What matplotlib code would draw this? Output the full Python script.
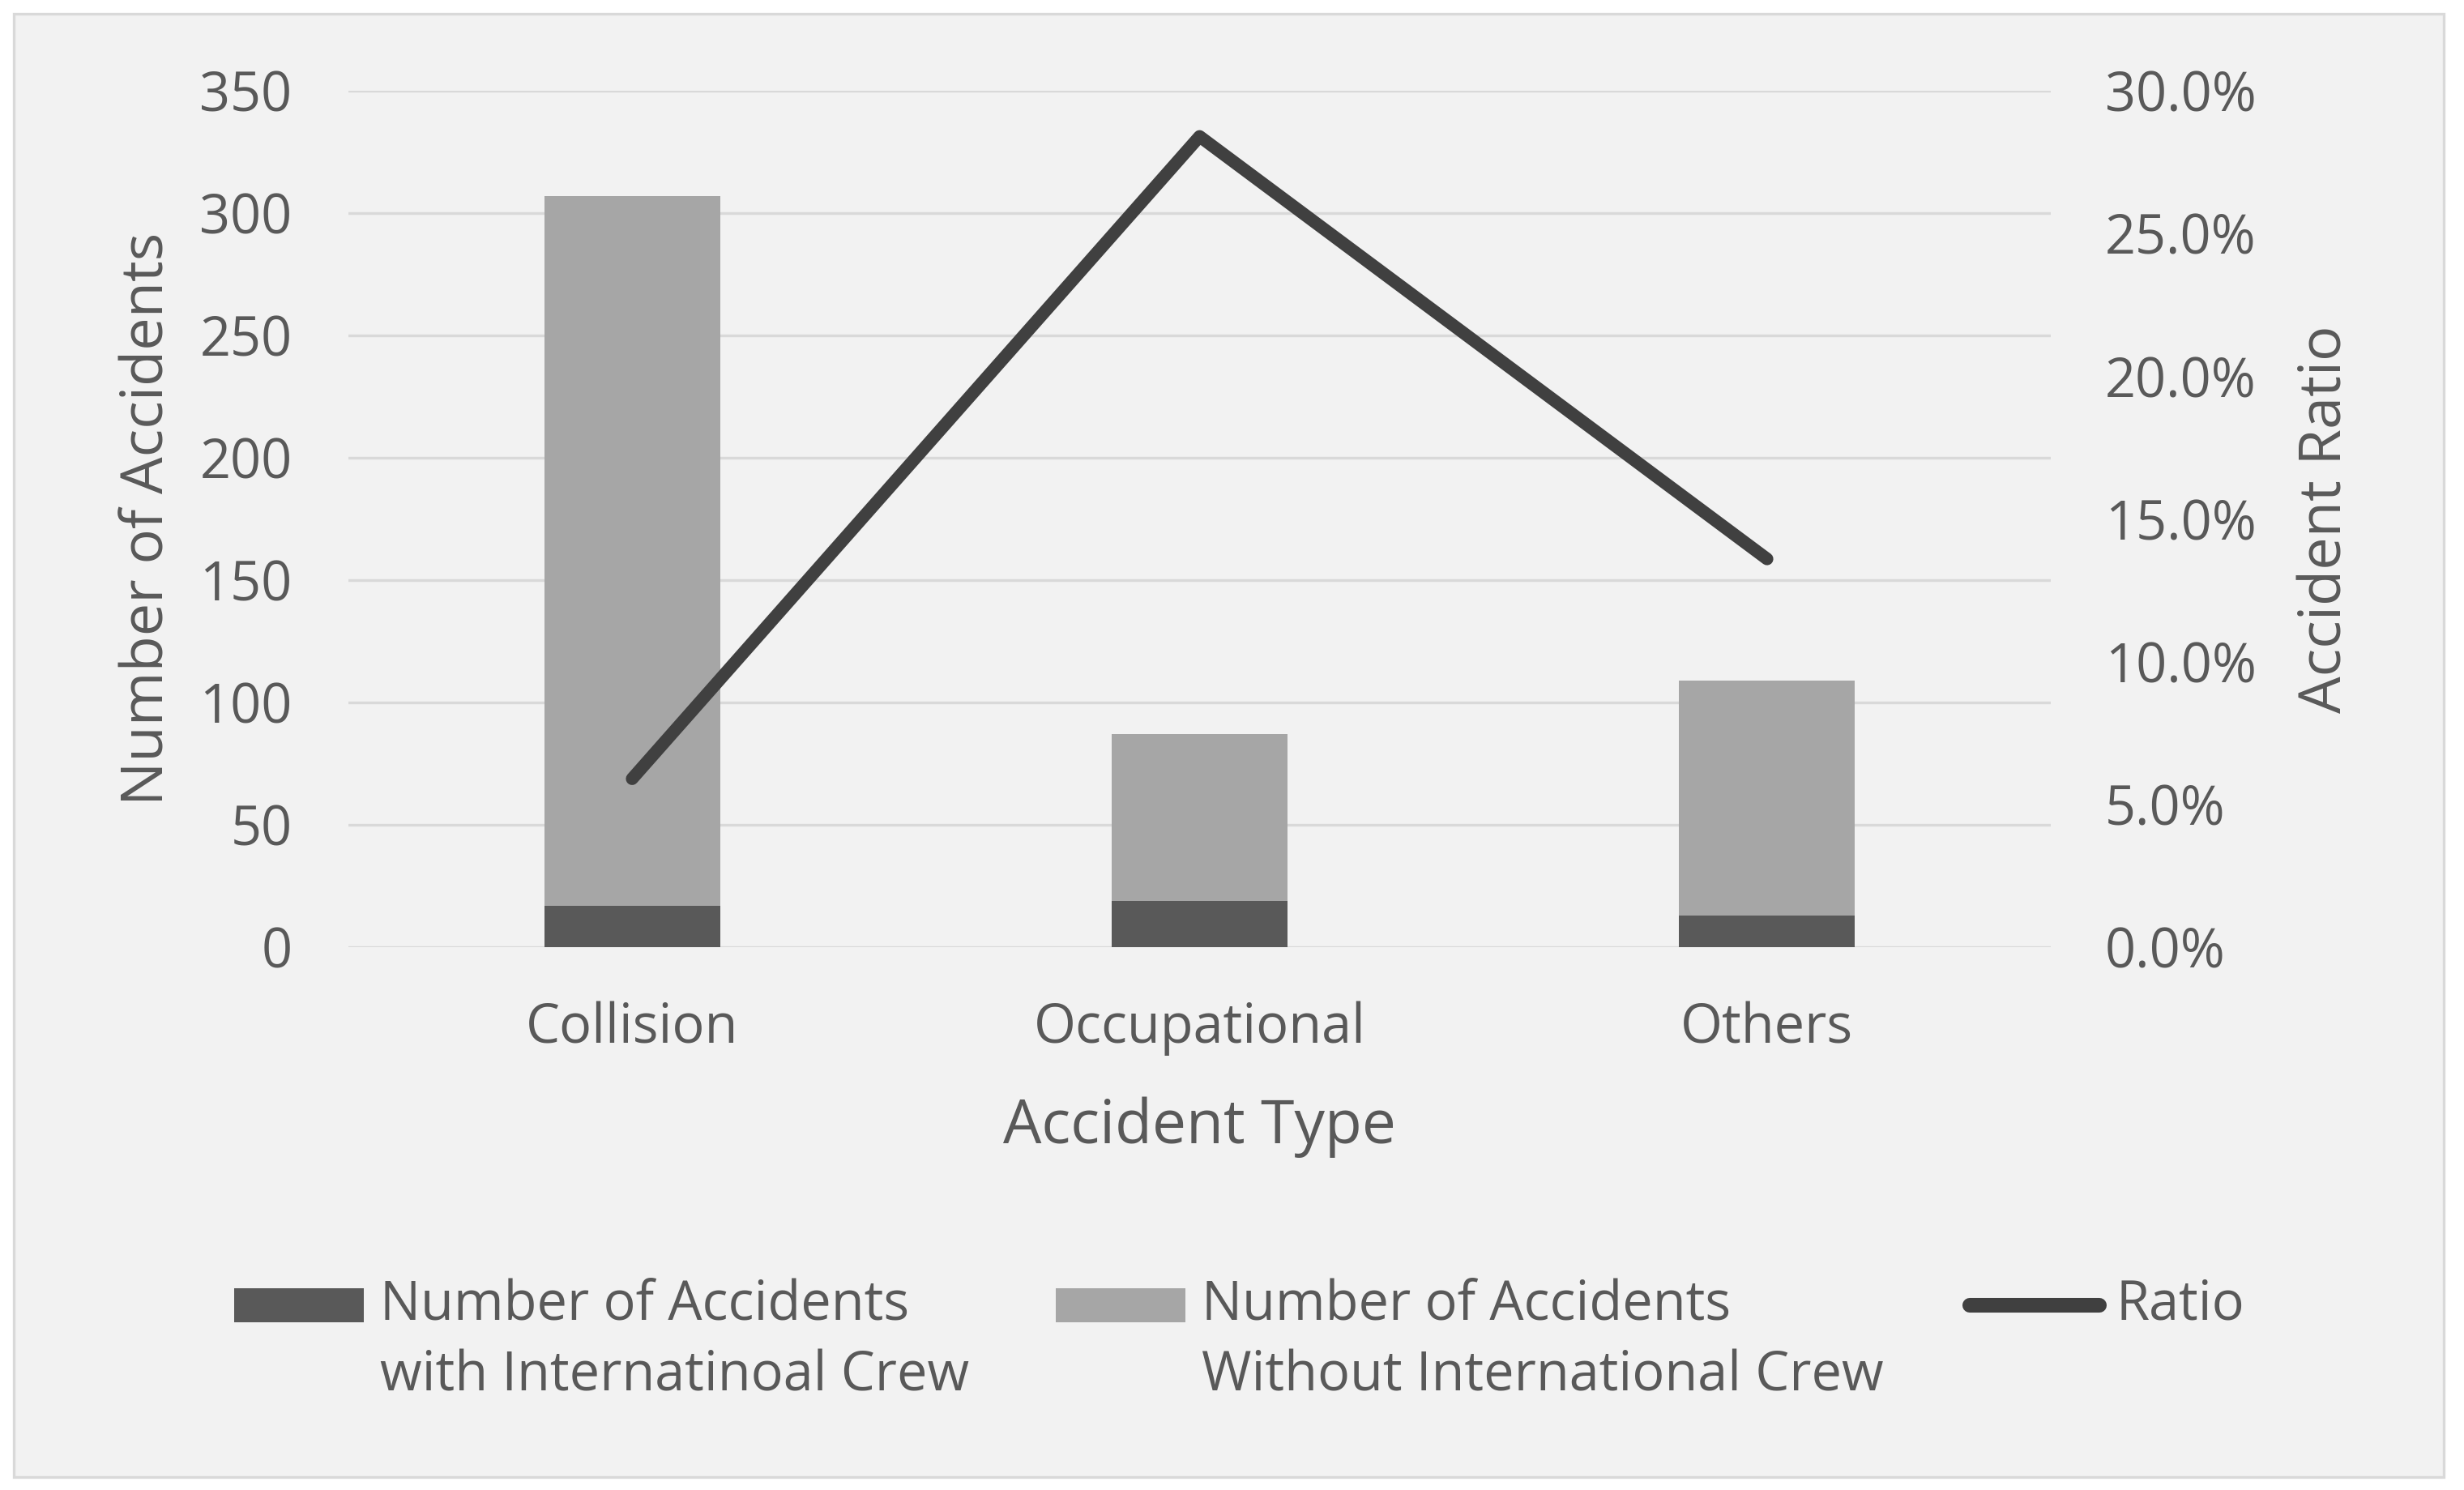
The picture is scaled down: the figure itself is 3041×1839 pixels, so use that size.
"""Accidents by type, with / without international crew, plus ratio."""
import matplotlib
matplotlib.use('Agg')
import matplotlib.pyplot as plt
import matplotlib.ticker as mticker
from matplotlib.patches import Rectangle
from matplotlib.lines import Line2D
from matplotlib.legend_handler import HandlerPatch

categories = ['Collision', 'Occupational', 'Others']
with_intl = [17, 19, 13]
without_intl = [290, 68, 96]
ratio = [5.9, 28.4, 13.6]

left_ticks = [0, 50, 100, 150, 200, 250, 300, 350]
right_ticks = [0, 5, 10, 15, 20, 25, 30]

TXT = '#595959'
DARK = '#595959'
LIGHT = '#A6A6A6'
LINE = '#404040'
GRID = '#D9D9D9'

LEG_FS = 24
LEG_LS = 1.4
SHIFT = LEG_FS * LEG_LS / 2  # move keys up to the first text line

plt.rcParams['font.family'] = ['Open Sans', 'DejaVu Sans']

fig = plt.figure(figsize=(15.205, 9.195), dpi=200, facecolor='white')

# chart area background with border
fig.patches.append(Rectangle(
    (17 / 3041, 1 - 1823 / 1839), (3016 - 17) / 3041, (1823 - 17) / 1839,
    transform=fig.transFigure, facecolor='#F2F2F2', edgecolor=GRID,
    lw=1.2, zorder=-5,
))

ax = fig.add_axes([0.1414, 0.3643, 0.8323 - 0.1414, 0.9391 - 0.3643])
ax.set_facecolor('none')
ax2 = ax.twinx()

x = list(range(len(categories)))
b1 = ax.bar(x, with_intl, width=0.31, color=DARK)
b2 = ax.bar(x, without_intl, width=0.31, bottom=with_intl, color=LIGHT)

ln, = ax2.plot(x, ratio, color=LINE, lw=5.6, solid_capstyle='round',
               solid_joinstyle='round')

ax.set_xlim(-0.5, 2.5)
ax.set_ylim(0, 350)
ax.set_yticks(left_ticks)
ax2.set_ylim(0, 30)
ax2.set_yticks(right_ticks)
ax2.yaxis.set_major_formatter(mticker.FormatStrFormatter('%.1f%%'))

ax.set_xticks(x)
ax.set_xticklabels(categories)

ax.set_axisbelow(True)
ax.grid(axis='y', color=GRID, lw=1.2)
for a in (ax, ax2):
    for s in a.spines.values():
        s.set_visible(False)
    a.tick_params(length=0, labelsize=24, labelcolor=TXT)
ax.tick_params(axis='y', pad=25)
ax.tick_params(axis='x', pad=24)
ax2.tick_params(axis='y', pad=24)

ax.set_xlabel('Accident Type', fontsize=27, color=TXT, labelpad=18)
ax.set_ylabel('Number of Accidents', fontsize=26, color=TXT, labelpad=10)
ax2.set_ylabel('Accident Ratio', fontsize=26, color=TXT, labelpad=18)


def box_key(legend, orig_handle, xdescent, ydescent, width, height, fontsize):
    return Rectangle((-xdescent, -ydescent + SHIFT), width, height)


def line_key(legend, orig_handle, xdescent, ydescent, width, height, fontsize):
    y = -ydescent + SHIFT + height / 2
    return Line2D([-xdescent, -xdescent + width], [y, y])


handles = [b1.patches[0], b2.patches[0], ln]
labels = [
    'Number of Accidents\nwith Internatinoal Crew',
    'Number of Accidents\nWithout International Crew',
    'Ratio\n',
]
leg = fig.legend(
    handles, labels,
    loc='center',
    bbox_to_anchor=(0.503, 0.10),
    ncol=3,
    frameon=False,
    fontsize=LEG_FS,
    handlelength=2.4,
    handleheight=0.6,
    handletextpad=0.3,
    columnspacing=1.6,
    handler_map={
        handles[0]: HandlerPatch(patch_func=box_key),
        handles[1]: HandlerPatch(patch_func=box_key),
        handles[2]: HandlerPatch(patch_func=line_key),
    },
)
for t in leg.get_texts():
    t.set_color(TXT)
    t.set_linespacing(LEG_LS)
leg.legend_handles[2].set_linewidth(6.5)
leg.legend_handles[2].set_solid_capstyle('round')

fig.savefig('out.png', dpi=200, facecolor='white')
